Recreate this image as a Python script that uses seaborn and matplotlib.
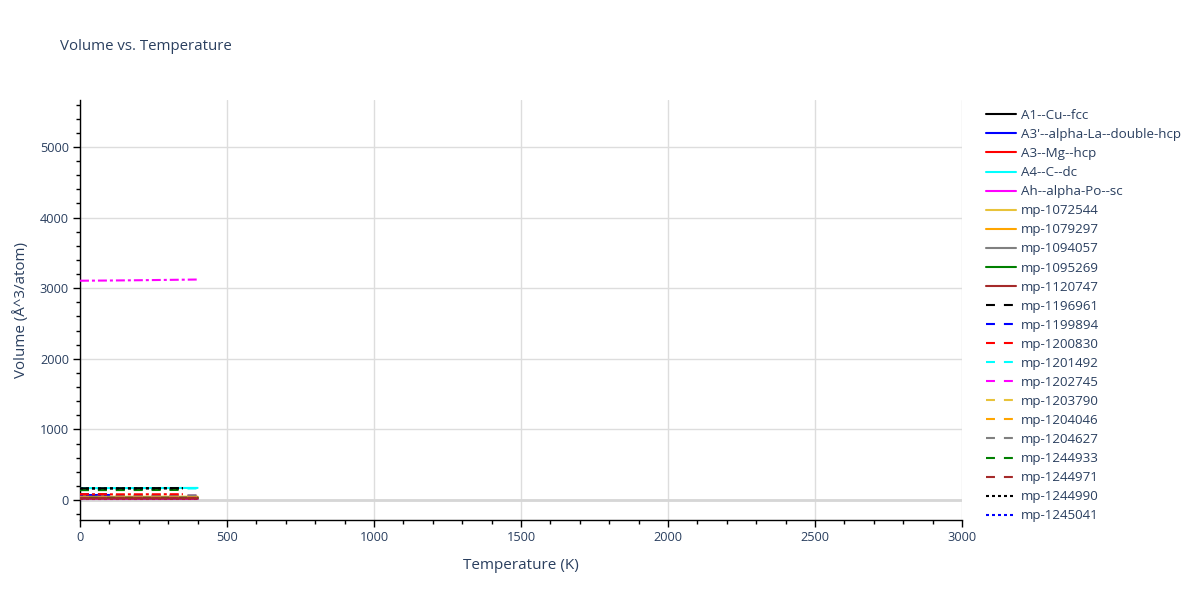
import matplotlib
matplotlib.use("Agg")
import matplotlib.pyplot as plt
import seaborn as sns
import numpy as np
from matplotlib.ticker import MultipleLocator

sns.set_theme(style="white")
plt.rcParams['font.family'] = ['Open Sans', 'DejaVu Sans']

TXT = '#2a3f5f'

# ---- data ----
names = ["A1--Cu--fcc", "A3'--alpha-La--double-hcp", "A3--Mg--hcp", "A4--C--dc",
         "Ah--alpha-Po--sc", "mp-1072544", "mp-1079297", "mp-1094057", "mp-1095269",
         "mp-1120747", "mp-1196961", "mp-1199894", "mp-1200830", "mp-1201492",
         "mp-1202745", "mp-1203790", "mp-1204046", "mp-1204627", "mp-1244933",
         "mp-1244971", "mp-1244990", "mp-1245041",
         "series-25", "series-30", "series-31", "series-33", "series-35"]
in_legend = [True] * 22 + [False] * 5
colors = ['black', 'blue', 'red', 'cyan', 'magenta', '#e8c33a', 'orange', 'gray', 'green', 'brown',
          'black', 'blue', 'red', 'cyan', 'magenta', '#e8c33a', 'orange', 'gray', 'green', 'brown',
          'black', 'blue',
          'magenta', 'brown', 'black', 'red', 'magenta']
styles = ['solid'] * 10 + ['dashed'] * 10 + ['dotted'] * 2 + ['dotted'] * 2 + ['dashdot'] * 3

temps = [
    [0, 100, 200, 300, 400],
    [0, 50, 100],
    [0, 100, 200, 300, 400],
    [0, 100, 200, 300, 400],
    [0, 100, 200, 300, 400],
    [0, 100, 200, 300, 400],
    [0, 100, 200, 300, 400],
    [0, 100, 200, 300, 400],
    [0, 100, 200, 300, 400],
    [0, 100, 200, 300, 400],
    [0, 100, 200, 300, 350],
    [0, 50, 100],
    [0, 50, 100],
    [0, 100, 200, 300, 400],
    [0, 100, 200, 300, 400],
    [0, 100, 200, 300, 400],
    [0, 100, 200, 300, 400],
    [0, 100, 200, 300, 400],
    [0, 100, 200, 300, 350],
    [0, 100, 200, 300, 400],
    [0, 100, 200, 300, 350],
    [0, 50, 100],
    [0, 100, 200, 300, 400],
    [0, 100, 200, 300, 400],
    [0, 100, 200, 300, 350],
    [0, 100, 200, 300, 350],
    [0, 100, 200, 300, 400],
]
volumes = [
    [16.0, 16.1, 16.3, 16.5, 16.7],
    [70.0, 70.3, 70.8],
    [22.0, 22.2, 22.5, 22.8, 23.1],
    [168.0, 168.5, 169.3, 170.2, 171.2],
    [20.0, 20.1, 20.3, 20.5, 20.7],
    [40.0, 40.2, 40.5, 40.8, 41.1],
    [45.0, 45.2, 45.5, 45.9, 46.3],
    [35.0, 35.2, 35.4, 35.7, 36.0],
    [30.0, 30.1, 30.3, 30.5, 30.7],
    [25.0, 25.1, 25.3, 25.5, 25.7],
    [150.0, 150.6, 151.5, 152.6, 153.2],
    [72.0, 72.3, 72.8],
    [82.0, 82.4, 83.0],
    [160.0, 160.6, 161.4, 162.3, 163.3],
    [60.0, 60.3, 60.7, 61.2, 61.7],
    [50.0, 50.2, 50.5, 50.9, 51.3],
    [55.0, 55.2, 55.6, 56.0, 56.4],
    [65.0, 65.3, 65.7, 66.1, 66.6],
    [140.0, 140.6, 141.4, 142.4, 143.0],
    [28.0, 28.1, 28.3, 28.5, 28.7],
    [162.0, 162.6, 163.5, 164.6, 165.2],
    [75.0, 75.3, 75.8],
    [14.0, 14.1, 14.3, 14.5, 14.7],
    [15.0, 15.1, 15.3, 15.5, 15.7],
    [166.0, 166.7, 167.6, 168.7, 169.3],
    [80.0, 80.4, 81.0, 81.8, 82.2],
    [3105.0, 3108.0, 3112.0, 3117.0, 3122.0],
]

dash_map = {'dashed': (0, (4.3, 4.3)), 'dotted': (0, (1.44, 1.44)),
            'dashdot': (0, (4.3, 1.44, 1.44, 1.44))}

fig = plt.figure(figsize=(12, 6), dpi=100)
ax = fig.add_axes([80 / 1200, 1 - 520 / 600, (962 - 80) / 1200, 420 / 600])

# zero line
ax.axhline(0, color='#d6d6d6', lw=2, zorder=1)

handles = []
labels = []
for n, leg, c, s, t, v in zip(names, in_legend, colors, styles, temps, volumes):
    ls = '-' if s == 'solid' else dash_map[s]
    sns.lineplot(x=t, y=v, ax=ax, color=c, linewidth=1.5, linestyle=ls, legend=False, zorder=3)
    ln = ax.lines[-1]
    if leg:
        handles.append(ln)
        labels.append(n)

ax.set_xlim(0, 3000)
ax.set_ylim(-283, 5664)
ax.xaxis.set_major_locator(MultipleLocator(500))
ax.xaxis.set_minor_locator(MultipleLocator(100))
ax.yaxis.set_major_locator(MultipleLocator(1000))
ax.yaxis.set_minor_locator(MultipleLocator(200))
ax.grid(True, which='major', color='#dddddd', lw=1)
ax.set_axisbelow(True)
for sp in ['top', 'right']:
    ax.spines[sp].set_visible(False)
for sp in ['left', 'bottom']:
    ax.spines[sp].set_color('black')
    ax.spines[sp].set_linewidth(1)
ax.tick_params(axis='both', which='major', direction='out', length=5, width=1, color='black',
               labelsize=9.2, labelcolor=TXT, pad=3, bottom=True, left=True)
ax.tick_params(axis='both', which='minor', direction='out', length=3, width=1, color='black',
               bottom=True, left=True)
ax.set_xlabel('Temperature (K)', fontsize=11.0, color=TXT, labelpad=10)
ax.set_ylabel('Volume (Å^3/atom)', fontsize=10.9, color=TXT, labelpad=8)

fig.text(60 / 1200, 1 - 46 / 600, 'Volume vs. Temperature', fontsize=10.8, color=TXT,
         ha='left', va='center')

leg = fig.legend(handles, labels, loc='upper left', bbox_to_anchor=(986 / 1200, 1 - 109 / 600),
                 frameon=False, fontsize=9.6, handlelength=2.25, handletextpad=0.38,
                 labelspacing=0.455, borderaxespad=0, borderpad=0)
for tx in leg.get_texts():
    tx.set_color(TXT)

fig.savefig('out.png', dpi=100)
